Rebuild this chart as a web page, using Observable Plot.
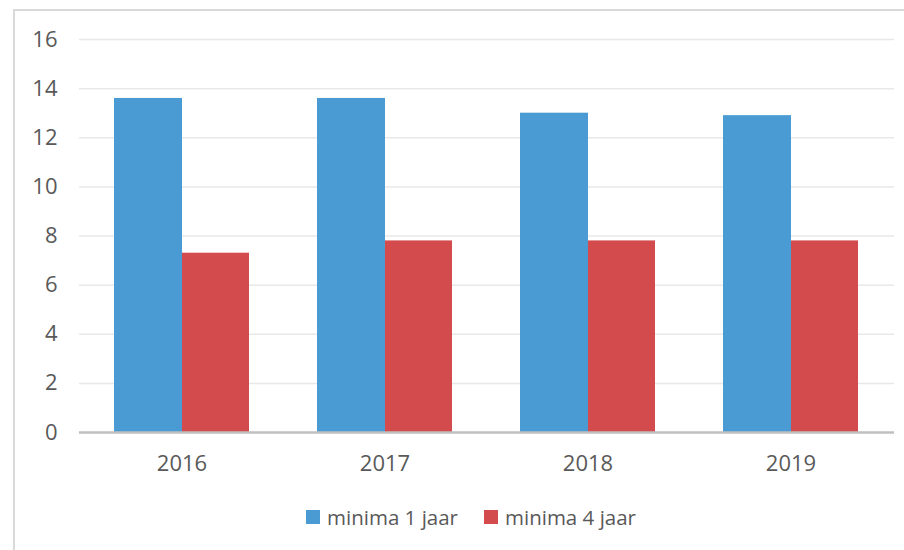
<!DOCTYPE html>
<html>
<head>
<meta charset="utf-8">
<script src="https://cdn.jsdelivr.net/npm/d3@7"></script>
<script src="https://cdn.jsdelivr.net/npm/@observablehq/plot@0.6"></script>
<style>
  html, body { margin: 0; padding: 0; background: #fff; overflow: hidden; }
  #wrap { position: relative; width: 904px; height: 550px; font-family: "Open Sans", sans-serif; }
  #frame { position: absolute; left: 13px; top: 9px; width: 1000px; height: 1000px; border: 2px solid #d9d9d9; box-sizing: border-box; }
  #chart { position: absolute; left: 0; top: 0; }
  #legend { position: absolute; left: 306px; top: 503px; display: flex; align-items: center; font-size: 20.5px; color: #595959; white-space: nowrap; }
  .item { display: flex; align-items: center; margin-right: 26px; }
  .sw { width: 14px; height: 14px; margin-right: 7px; }
</style>
</head>
<body>
<div id="wrap">
  <div id="frame"></div>
  <div id="chart"></div>
  <div id="legend"></div>
</div>
<script>
const years = ["2016", "2017", "2018", "2019"];
const series = ["minima 1 jaar", "minima 4 jaar"];
const minima1 = [13.6, 13.6, 13.0, 12.9];
const minima4 = [7.3, 7.8, 7.8, 7.8];
const colors = ["#4a9bd4", "#d34b4c"];
const yTicks = [0, 2, 4, 6, 8, 10, 12, 14, 16];

const data1 = years.map((y, i) => ({year: y, series: series[0], value: minima1[i]}));
const data4 = years.map((y, i) => ({year: y, series: series[1], value: minima4[i]}));

const chart = Plot.plot({
  width: 904,
  height: 482,
  marginLeft: 79,
  marginRight: 10,
  marginTop: 39,
  marginBottom: 50,
  style: {fontFamily: "Open Sans, sans-serif", fontSize: "22px", color: "#595959", background: "transparent"},
  x: {domain: years, paddingInner: 1/3, paddingOuter: 1/6, label: null},
  y: {domain: [0, 16], label: null},
  color: {domain: series, range: colors},
  marks: [
    Plot.gridY(yTicks.filter(d => d > 0), {stroke: "#e8e8e8", strokeOpacity: 1, strokeWidth: 1.5}),
    Plot.barY(data1, {x: "year", y: "value", fill: "series", insetRight: 67, insetLeft: 0}),
    Plot.barY(data4, {x: "year", y: "value", fill: "series", insetLeft: 68, insetRight: 0}),
    Plot.ruleY([0], {stroke: "#bfbfbf", strokeWidth: 2.5}),
    Plot.axisY(yTicks, {tickSize: 0, tickPadding: 22, label: null, fontSize: 22}),
    Plot.axisX({tickSize: 0, tickPadding: 23, label: null, fontSize: 22})
  ]
});
document.getElementById("chart").appendChild(chart);

const legend = document.getElementById("legend");
series.forEach((s, i) => {
  const item = document.createElement("div");
  item.className = "item";
  const sw = document.createElement("div");
  sw.className = "sw";
  sw.style.background = colors[i];
  const t = document.createElement("span");
  t.textContent = s;
  item.appendChild(sw);
  item.appendChild(t);
  legend.appendChild(item);
});
</script>
</body>
</html>
